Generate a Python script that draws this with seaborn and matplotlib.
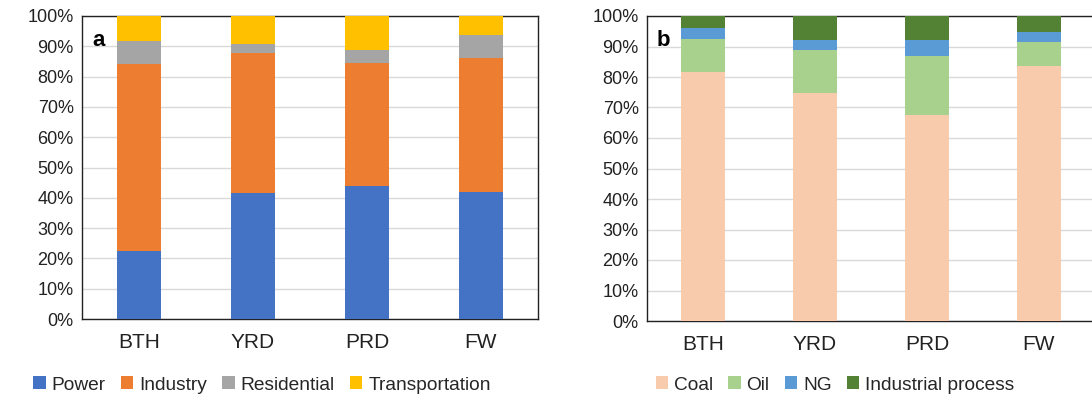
import numpy as np
import pandas as pd
import matplotlib
matplotlib.use("Agg")
import matplotlib.pyplot as plt
import seaborn as sns
from matplotlib.patches import Patch
from matplotlib.ticker import PercentFormatter

regions = ["BTH", "YRD", "PRD", "FW"]

# Panel a: sector shares (%)
sectors = ["Power", "Industry", "Residential", "Transportation"]
power = [22.5, 41.5, 44.0, 42.0]
industry = [61.7, 46.4, 40.5, 44.2]
residential = [7.5, 2.9, 4.3, 7.6]
transportation = [8.3, 9.2, 11.2, 6.2]
sector_colors = ["#4472C4", "#ED7D31", "#A5A5A5", "#FFC000"]

# Panel b: fuel shares (%)
fuels = ["Coal", "Oil", "NG", "Industrial process"]
coal = [81.5, 74.7, 67.5, 83.5]
oil = [10.9, 14.0, 19.3, 8.1]
ng = [3.6, 3.4, 5.4, 3.1]
industrial_process = [4.0, 7.9, 7.8, 5.3]
fuel_colors = ["#F8CBAD", "#A9D18E", "#5B9BD5", "#548235"]

sns.set_theme(style="white")
plt.rcParams["font.family"] = ["Liberation Sans", "DejaVu Sans"]

fig = plt.figure(figsize=(10.92, 4.05), dpi=100)
W, H = 1092, 405
ax_a = fig.add_axes([82 / W, 1 - 319 / H, 456 / W, 303 / H])
ax_b = fig.add_axes([647 / W, 1 - 321 / H, 448 / W, 305 / H])


def stacked(ax, series, names, colors, label):
    arr = np.array(series, dtype=float)
    cum = np.cumsum(arr, axis=0)
    for i in range(len(series) - 1, -1, -1):
        df = pd.DataFrame({"region": regions, "value": cum[i]})
        sns.barplot(data=df, x="region", y="value", color=colors[i],
                    saturation=1, width=0.39, ax=ax, errorbar=None, zorder=3,
                    edgecolor="none", linewidth=0)
    ax.set_ylim(0, 100)
    ax.set_yticks(np.arange(0, 101, 10))
    ax.yaxis.set_major_formatter(PercentFormatter(decimals=0))
    ax.grid(axis="y", color="#D9D9D9", linewidth=1, zorder=0)
    ax.set_axisbelow(True)
    for s in ax.spines.values():
        s.set_visible(True)
        s.set_color("#222222")
        s.set_linewidth(1.0)
    ax.set_xlabel("")
    ax.set_ylabel("")
    ax.tick_params(axis="y", labelsize=13, length=0, pad=6, colors="#222222")
    ax.tick_params(axis="x", labelsize=15, length=0, pad=10, colors="#222222")
    ax.set_xlim(-0.5, 3.5)
    ax.text(0.022, 0.955, label, transform=ax.transAxes, fontsize=16,
            fontweight="bold", va="top", ha="left", color="black", zorder=5)


stacked(ax_a, [power, industry, residential, transportation], sectors, sector_colors, "a")
stacked(ax_b, [coal, oil, ng, industrial_process], fuels, fuel_colors, "b")

for names, colors, cx in [(sectors, sector_colors, 262), (fuels, fuel_colors, 835)]:
    handles = [Patch(facecolor=c, edgecolor="none") for c in colors]
    fig.legend(handles, names, loc="center", bbox_to_anchor=(cx / W, 1 - 385 / H),
               ncol=4, frameon=False, fontsize=13.8, handlelength=0.65,
               handleheight=0.65, handletextpad=0.3, columnspacing=0.8)

fig.savefig("out.png", dpi=100)
